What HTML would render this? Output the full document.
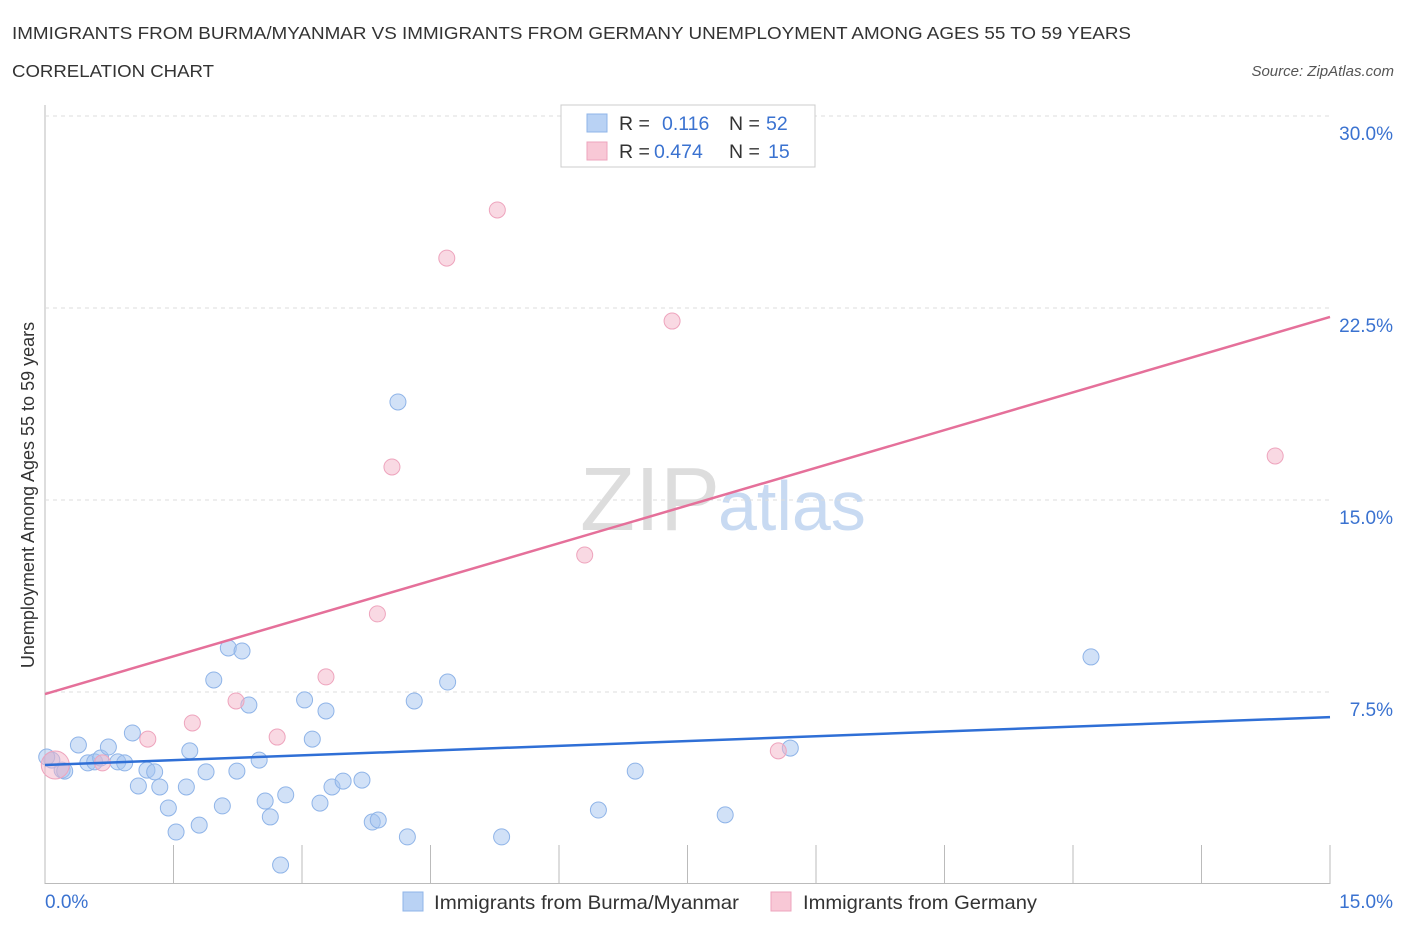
<!DOCTYPE html>
<html><head><meta charset="utf-8"><style>
body{margin:0;background:#fff;font-family:"Liberation Sans",sans-serif;}
svg text{font-family:"Liberation Sans",sans-serif;}
</style></head><body>
<svg id="c" width="1406" height="930" xmlns="http://www.w3.org/2000/svg">
<text x="12" y="39" font-size="17.5" fill="#333" textLength="1119" lengthAdjust="spacingAndGlyphs">IMMIGRANTS FROM BURMA/MYANMAR VS IMMIGRANTS FROM GERMANY UNEMPLOYMENT AMONG AGES 55 TO 59 YEARS</text>
<text x="12" y="77" font-size="17.5" fill="#333" textLength="202" lengthAdjust="spacingAndGlyphs">CORRELATION CHART</text>
<text x="1394" y="76" font-size="15" fill="#555" font-style="italic" text-anchor="end">Source: ZipAtlas.com</text>
<text x="720" y="530" font-size="90" fill="#ddd" font-family="Liberation Serif" text-anchor="end">ZIP</text>
<text x="718" y="530" font-size="70" fill="#c8daf2">atlas</text>
<text transform="translate(34,495) rotate(-90)" font-size="18" fill="#333" text-anchor="middle">Unemployment Among Ages 55 to 59 years</text>
<g id="grid"></g><g id="marks"></g>
<g>
<rect x="561" y="105" width="254" height="62" fill="#fff" stroke="#ccc"/>
<rect x="587" y="114" width="20" height="18" fill="#b9d2f4" stroke="#8fb4e8"/>
<text x="619" y="130" font-size="19.5" fill="#333">R = </text><text x="662" y="130" font-size="19.5" fill="#3a72d0">0.116</text>
<text x="729" y="130" font-size="19.5" fill="#333">N = </text><text x="766" y="130" font-size="19.5" fill="#3a72d0">52</text>
<rect x="587" y="142" width="20" height="18" fill="#f8c8d6" stroke="#eea4bd"/>
<text x="619" y="158" font-size="19.5" fill="#333">R = </text><text x="654" y="158" font-size="19.5" fill="#3a72d0">0.474</text>
<text x="729" y="158" font-size="19.5" fill="#333">N = </text><text x="768" y="158" font-size="19.5" fill="#3a72d0">15</text>
</g>
<g>
<rect x="403" y="892" width="20" height="19" fill="#b9d2f4" stroke="#8fb4e8"/>
<text x="434" y="909" font-size="19.5" fill="#333" textLength="305" lengthAdjust="spacingAndGlyphs">Immigrants from Burma/Myanmar</text>
<rect x="771" y="892" width="20" height="19" fill="#f8c8d6" stroke="#eea4bd"/>
<text x="803" y="909" font-size="19.5" fill="#333" textLength="234" lengthAdjust="spacingAndGlyphs">Immigrants from Germany</text>
</g>
</svg>
<script>
const blueX=[0.08,0.20,0.39,0.50,0.58,0.65,0.74,0.85,0.93,1.02,1.09,1.19,1.28,1.34,1.44,1.53,1.65,1.69,1.80,1.88,1.97,2.07,2.14,2.24,2.30,2.38,2.50,2.57,2.63,2.75,2.81,3.03,3.12,3.21,3.28,3.35,3.48,3.70,3.82,3.89,4.12,4.23,4.31,4.70,5.33,6.46,6.89,7.94,8.70,12.21,0.02,0.23];
const blueY=[4.84,4.45,5.43,4.73,4.77,4.92,5.35,4.77,4.73,5.90,3.83,4.45,4.38,3.79,2.97,2.03,3.79,5.20,2.30,4.38,7.97,3.05,9.22,4.41,9.10,6.99,4.84,3.24,2.62,0.74,3.48,7.19,5.66,3.16,6.76,3.79,4.02,4.06,2.42,2.50,18.83,1.84,7.15,7.89,1.84,2.89,4.41,2.70,5.31,8.87,4.96,4.41];
const pinkX=[0.12,0.67,1.20,1.72,2.23,2.71,3.28,3.88,4.05,4.69,5.28,6.30,7.32,8.56,14.36];
const pinkY=[4.65,4.73,5.66,6.29,7.15,5.74,8.09,10.55,16.29,24.45,26.33,12.85,21.99,5.20,16.72];
const blueTrend=[4.65,6.52];
const pinkTrend=[7.42,22.15];
const yTicks=[7.5,15,22.5,30];
const X=v=>45+v*85.667, Y=v=>884-v*25.6;
const NS="http://www.w3.org/2000/svg";
const grid=document.getElementById('grid'),marks=document.getElementById('marks');
function mk(tag,at,p){const e=document.createElementNS(NS,tag);for(const k in at)e.setAttribute(k,at[k]);p.appendChild(e);return e;}
let ax=mk('line',{x1:45,y1:105,x2:45,y2:884,stroke:'#bbb'},grid);


let bx=mk('line',{x1:45,y1:883.5,x2:1330,y2:883.5,stroke:'#bbb'},grid);


yTicks.forEach(t=>{
 const g=mk('line',{x1:45,x2:1330,y1:Y(t),y2:Y(t),stroke:'#ddd','stroke-dasharray':'4,4'},grid);
 
 
 const l=mk('text',{x:1393,y:Y(t)+24,'font-size':19,fill:'#3a72d0','text-anchor':'end'},grid);
 l.textContent=t.toFixed(1)+'%';
 
 
});
for(let i=1;i<=10;i++){
 const t=i*1.5;
 const k=mk('line',{x1:X(t),x2:X(t),y1:845,y2:884,stroke:'#bbb'},grid);
 
 
}
const xl0=mk('text',{x:45,y:908,'font-size':19,fill:'#3a72d0'},grid);xl0.textContent='0.0%';


const xl1=mk('text',{x:1393,y:908,'font-size':19,fill:'#3a72d0','text-anchor':'end'},grid);xl1.textContent='15.0%';


blueX.forEach((x,i)=>{
 const c=mk('circle',{cx:X(x),cy:Y(blueY[i]),r:8,fill:'rgba(164,196,240,0.5)',stroke:'#8fb4e8','stroke-width':1},marks);
 
 
});
pinkX.forEach((x,i)=>{
 const c=mk('circle',{cx:X(x),cy:Y(pinkY[i]),r:i==0?14:8,fill:'rgba(244,180,200,0.5)',stroke:'#eea4bd','stroke-width':1},marks);
 
 
});
const tb=mk('line',{x1:X(0),y1:Y(blueTrend[0]),x2:X(15),y2:Y(blueTrend[1]),stroke:'#2f6fd6','stroke-width':2.5},marks);


const tp=mk('line',{x1:X(0),y1:Y(pinkTrend[0]),x2:X(15),y2:Y(pinkTrend[1]),stroke:'#e5709a','stroke-width':2.5},marks);


</script>
</body></html>
